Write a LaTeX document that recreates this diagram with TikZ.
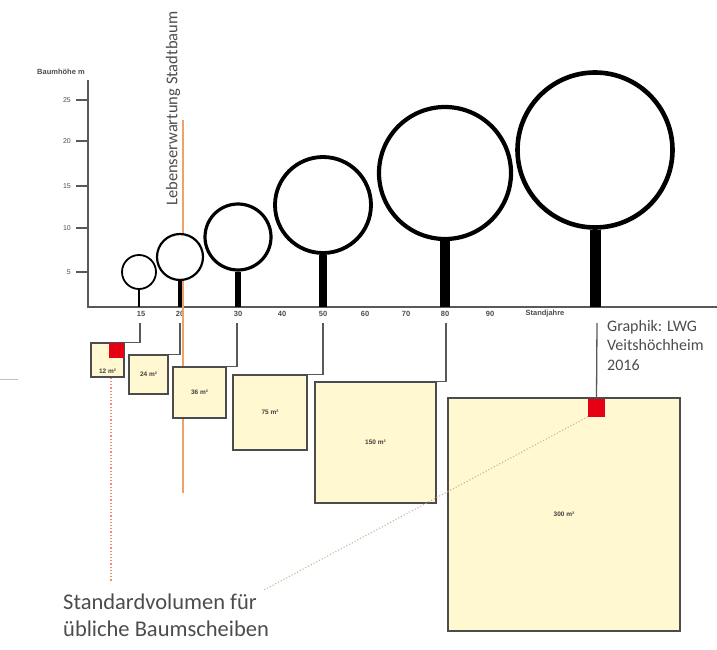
\documentclass[tikz,border=0pt]{standalone}
\usepackage{fontspec}
\setmainfont{Carlito}
\newfontfamily\axisfont{Liberation Sans}
\definecolor{lifeline}{RGB}{240,160,105}
\definecolor{rootfill}{RGB}{255,248,208}
\definecolor{stdred}{RGB}{230,0,20}
\definecolor{ptrA}{RGB}{240,140,110}
\definecolor{ptrB}{RGB}{200,180,150}
\begin{document}
\begin{tikzpicture}[x=1pt,y=-1pt,
  axisline/.style={draw=black!65,line width=1.6pt},
  ticklab/.style={font=\axisfont\bfseries\fontsize{7.5}{8}\selectfont,text=black!70,inner sep=0pt},
  crown/.style={circle,draw=black,fill=white,inner sep=0pt},
  trunk/.style={draw=black,line cap=butt},
  plot/.style={draw=black!70,fill=rootfill,line width=1.7pt,inner sep=0pt,
    font=\axisfont\bfseries\fontsize{6.5}{7}\selectfont,text=black!75},
  hook/.style={draw=black!65,line width=1.3pt},
  note/.style={text=black!70,inner sep=0pt,align=left},
  std/.style={fill=stdred,draw=none,inner sep=0pt}]
\useasboundingbox (0,0) rectangle (717,650);

% axes
\coordinate (o) at (88,307);
\coordinate (ytop) at (88,80);
\coordinate (xend) at (717,307);
\draw[axisline] (ytop) -- (o) -- (xend);
\node[ticklab] (ylab) at (61,72) {Baumhöhe m};
\foreach \v/\yy in {25/100,20/141,15/186,10/228,5/272}{
  \draw[axisline,line width=1.2pt] (76,\yy) -- (88,\yy);
  \node[ticklab,anchor=east,font=\axisfont\fontsize{7}{8}\selectfont] at (71,\yy) {\v};
}
\foreach \v/\xx in {15/141,20/180,30/238,40/282,50/323,60/365,70/406,80/445,90/490}{
  \node[ticklab] (t\v) at (\xx,314) {\v};
}
\node[ticklab] (tstand) at (545,314) {Standjahre};

% life expectancy marker
\coordinate (lifetop) at (183,120);
\coordinate (lifebot) at (183,493);
\draw[lifeline,line width=1.1pt] (lifetop) -- (lifebot);
\node[note,rotate=90,anchor=west,font=\fontsize{16.5}{18}\selectfont] (life) at (173,206) {Lebenserwartung Stadtbaum};

% pointers to the caption
\coordinate (p1) at (111,582);
\coordinate (p2) at (264,590);

% trees: crown and trunk
\node[crown,line width=1.8pt,minimum size=34pt] (c1) at (139,272) {};
\node[crown,line width=2.2pt,minimum size=46pt] (c2) at (180,257) {};
\node[crown,line width=3.2pt,minimum size=66pt] (c3) at (238,237) {};
\node[crown,line width=3.8pt,minimum size=96pt] (c4) at (323,205) {};
\node[crown,line width=4.2pt,minimum size=132pt] (c5) at (445,173) {};
\node[crown,line width=4.6pt,minimum size=155pt] (c6) at (595,150) {};
\draw[trunk,line width=2.8pt] (c1.south) -- (c1.south |- o);
\draw[trunk,line width=4.5pt] (c2.south) -- (c2.south |- o);
\draw[trunk,line width=6pt] (c3.south) -- (c3.south |- o);
\draw[trunk,line width=8pt] (c4.south) -- (c4.south |- o);
\draw[trunk,line width=10pt] (c5.south) -- (c5.south |- o);
\draw[trunk,line width=11pt] (c6.south) -- (c6.south |- o);

% standard root volumes
\node[plot,minimum width=33pt,minimum height=34pt] (b12) at (107.5,360) {};
\node[plot,minimum width=39pt,minimum height=39pt] (b24) at (148.5,374.5) {24 m²};
\node[plot,minimum width=53pt,minimum height=51pt] (b36) at (199.5,392.5) {36 m²};
\node[plot,minimum width=74pt,minimum height=75pt] (b75) at (270,412.5) {75 m²};
\node[plot,minimum width=121pt,minimum height=121pt] (b150) at (375.5,442.5) {150 m²};
\node[plot,minimum width=232pt,minimum height=233pt] (b300) at (564,514.5) {300 m²};
\draw[ptrA,line width=1.2pt,dotted] (b12.south -| p1) -- (p1);
\node[plot,draw=none,fill=none,anchor=south] at ([yshift=4pt]b12.south) {12 m²};
\node[std,minimum width=15pt,minimum height=15pt,anchor=north east] (s12) at ([xshift=-1pt,yshift=-1pt]b12.north east) {};
\node[std,minimum width=17pt,minimum height=18pt] (s300) at (596.5,407.5) {};
\draw[ptrB,line width=1.1pt,dotted] (s300.south west) -- (p2);

% age ticks to volumes
\coordinate (h15) at (140,323);
\coordinate (h20) at (180,323);
\coordinate (h30) at (237,323);
\coordinate (h50) at (323,323);
\coordinate (h80) at (446,323);
\coordinate (h105) at (597,323);
\draw[hook] (h15) |- (b12.north east);
\draw[hook] (h20) |- (b24.north east);
\draw[hook] (h30) |- (b36.north east);
\draw[hook] (h50) |- (b75.north east);
\draw[hook] (h80) |- (b150.north east);
\draw[hook] (h105) -- (s300.north);

% captions
\node[note,anchor=north west,font=\fontsize{22.5}{27}\selectfont] (cap) at (63,594)
  {Standardvolumen für\\übliche Baumscheiben};
\node[note,anchor=north west,font=\fontsize{16}{19.5}\selectfont] (credit) at (607,320)
  {Graphik: LWG\\Veitshöchheim\\2016};

% stray rule at the left margin
\coordinate (m1) at (0,379);
\coordinate (m2) at (18,379);
\draw[black!25,line width=0.6pt] (m1) -- (m2);
\end{tikzpicture}
\end{document}
